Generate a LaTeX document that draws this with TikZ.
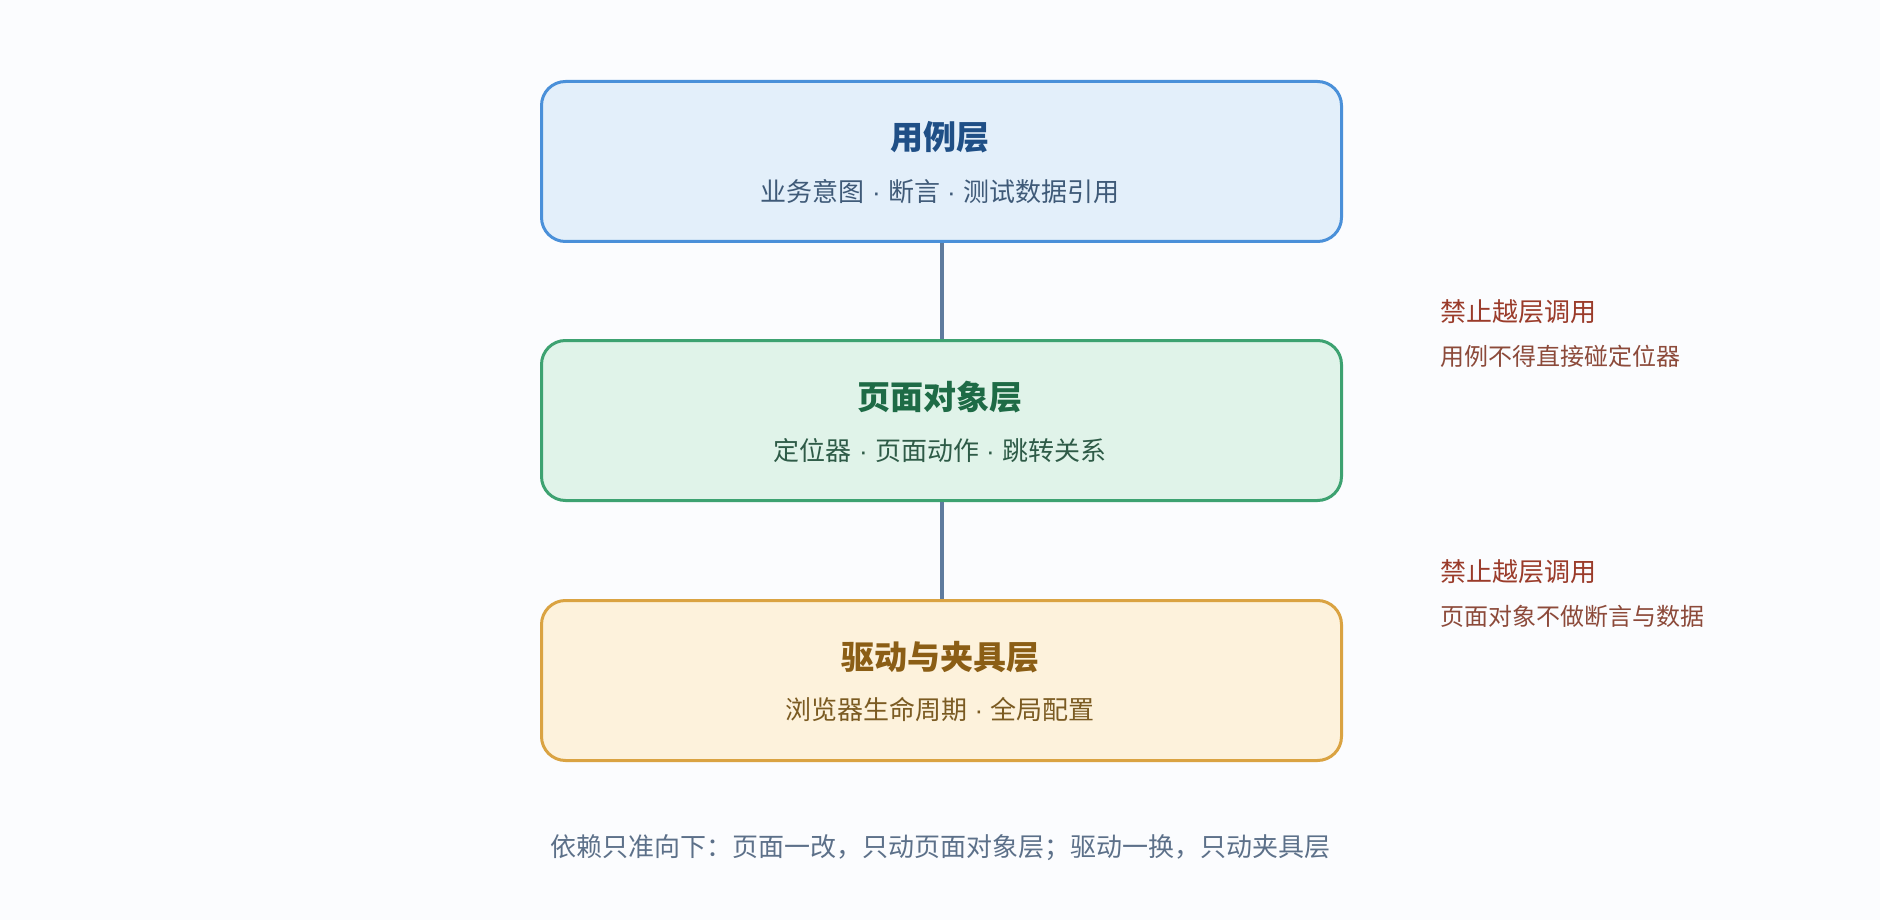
\documentclass[tikz,border=0pt]{standalone}
\usepackage{fontspec}
\setmainfont{Noto Sans CJK SC}
\newfontfamily\dotfont{Liberation Sans}
\newcommand{\sepdot}{{\dotfont\ ·\ }}
\definecolor{bg}{HTML}{FBFCFE}
\definecolor{bAfill}{HTML}{E3EFFA}
\definecolor{bAdraw}{HTML}{4A90D9}
\definecolor{bAtitle}{HTML}{1F4F86}
\definecolor{bAsub}{HTML}{3F5A78}
\definecolor{bBfill}{HTML}{E0F3E9}
\definecolor{bBdraw}{HTML}{3DA271}
\definecolor{bBtitle}{HTML}{1E6B46}
\definecolor{bBsub}{HTML}{2E5B47}
\definecolor{bCfill}{HTML}{FDF2DC}
\definecolor{bCdraw}{HTML}{DAA342}
\definecolor{bCtitle}{HTML}{8B5E15}
\definecolor{bCsub}{HTML}{7B5B22}
\definecolor{linkc}{HTML}{5E7B9E}
\definecolor{warnA}{HTML}{9A3B2A}
\definecolor{warnB}{HTML}{8C4A3A}
\definecolor{notec}{HTML}{5C7089}
\tikzset{
  layerbox/.style={draw, line width=3pt, rounded corners=24pt, minimum width=800pt, minimum height=160pt, inner sep=0pt, anchor=north west},
  ttl/.style={font=\fontsize{33}{37}\selectfont\bfseries, inner sep=0pt},
  sub/.style={font=\fontsize{26}{30}\selectfont, inner sep=0pt},
  warnhead/.style={font=\fontsize{26}{30}\selectfont, text=warnA, inner sep=0pt, anchor=west},
  warnbody/.style={font=\fontsize{24}{28}\selectfont, text=warnB, inner sep=0pt, anchor=west},
  link/.style={draw=linkc, line width=4pt},
}
\begin{document}
\begin{tikzpicture}[x=1pt,y=-1pt]
\fill[bg] (0,0) rectangle (1880,920);
\useasboundingbox (0,0) rectangle (1880,920);
% boxes
\node[layerbox, draw=bAdraw, fill=bAfill] (bA) at (540,80) {};
\node[layerbox, draw=bBdraw, fill=bBfill] (bB) at (540,339) {};
\node[layerbox, draw=bCdraw, fill=bCfill] (bC) at (540,599) {};
% texts
\node[ttl, text=bAtitle] (tA) at (940,137) {用例层};
\node[sub, text=bAsub] (sA) at (940,192) {业务意图\sepdot 断言\sepdot 测试数据引用};
\node[ttl, text=bBtitle] (tB) at (940,397) {页面对象层};
\node[sub, text=bBsub] (sB) at (940,451) {定位器\sepdot 页面动作\sepdot 跳转关系};
\node[ttl, text=bCtitle] (tC) at (940,657) {驱动与夹具层};
\node[sub, text=bCsub] (sC) at (940,710) {浏览器生命周期\sepdot 全局配置};
% connectors
\draw[link] (bA.south) -- (bB.north);
\draw[link] (bB.south) -- (bC.north);
% annotations
\node[warnhead] (wA) at (1440,312) {禁止越层调用};
\node[warnbody] (wAb) at (1440,356) {用例不得直接碰定位器};
\node[warnhead] (wB) at (1440,572) {禁止越层调用};
\node[warnbody] (wBb) at (1440,616) {页面对象不做断言与数据};
% bottom note
\node[font=\fontsize{26}{30}\selectfont, text=notec, inner sep=0pt] (note) at (940,848) {依赖只准向下：页面一改，只动页面对象层；驱动一换，只动夹具层};
\end{tikzpicture}
\end{document}
